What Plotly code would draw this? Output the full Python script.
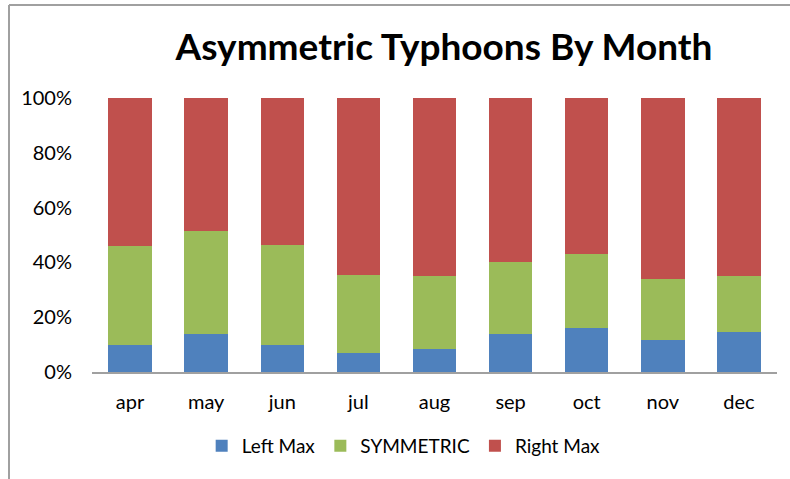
import plotly.graph_objects as go

# Share of typhoons per month by asymmetry class (fractions of 1)
months = ["apr", "may", "jun", "jul", "aug", "sep", "oct", "nov", "dec"]
left_max = [0.10, 0.14, 0.10, 0.07, 0.085, 0.14, 0.16, 0.115, 0.145]
symmetric = [0.36, 0.375, 0.365, 0.285, 0.265, 0.26, 0.27, 0.225, 0.205]
right_max = [round(1 - l - s, 3) for l, s in zip(left_max, symmetric)]

series = [
    ("Left Max", left_max, "#4F81BD"),
    ("SYMMETRIC", symmetric, "#9BBB59"),
    ("Right Max", right_max, "#C0504D"),
]

font_family = "Lato, 'Open Sans', sans-serif"

fig = go.Figure()
for name, vals, color in series:
    fig.add_trace(go.Bar(
        x=months, y=vals, name=name,
        marker=dict(color=color, line=dict(width=0)),
    ))

fig.update_layout(
    barmode="stack",
    bargap=0.43,
    width=790, height=479,
    margin=dict(l=92, r=13, t=98, b=107),
    paper_bgcolor="white",
    plot_bgcolor="white",
    font=dict(family=font_family, size=20, color="#000000"),
    title=dict(
        text="<b>Asymmetric Typhoons By Month</b>",
        x=0.562, xanchor="center",
        y=0.902, yanchor="middle",
        font=dict(family=font_family, size=37, color="#000000"),
    ),
    showlegend=True,
    legend=dict(
        orientation="h",
        x=0.455, xanchor="center",
        y=-0.2, yanchor="top",
        font=dict(family=font_family, size=19),
        itemwidth=30,
        traceorder="normal",
    ),
    xaxis=dict(
        showline=True, linecolor="#A0A0A0", linewidth=2,
        ticks="", showgrid=False,
        tickfont=dict(size=20),
        ticklabelstandoff=11,
    ),
    yaxis=dict(
        range=[0, 1], tickformat=".0%", dtick=0.2,
        showgrid=False, zeroline=False, showline=False,
        tickfont=dict(size=20),
        ticklabelstandoff=19,
    ),
)

# Chart frame: top and left borders
fig.add_shape(type="line", xref="paper", yref="paper",
              x0=(9 - 92) / 685, x1=1.05, y0=(372 - 5) / 274, y1=(372 - 5) / 274,
              line=dict(color="#A0A0A0", width=2))
fig.add_shape(type="line", xref="paper", yref="paper",
              x0=(9 - 92) / 685, x1=(9 - 92) / 685, y0=(372 - 5) / 274, y1=-0.5,
              line=dict(color="#A0A0A0", width=2))

fig.write_html("out.html")
